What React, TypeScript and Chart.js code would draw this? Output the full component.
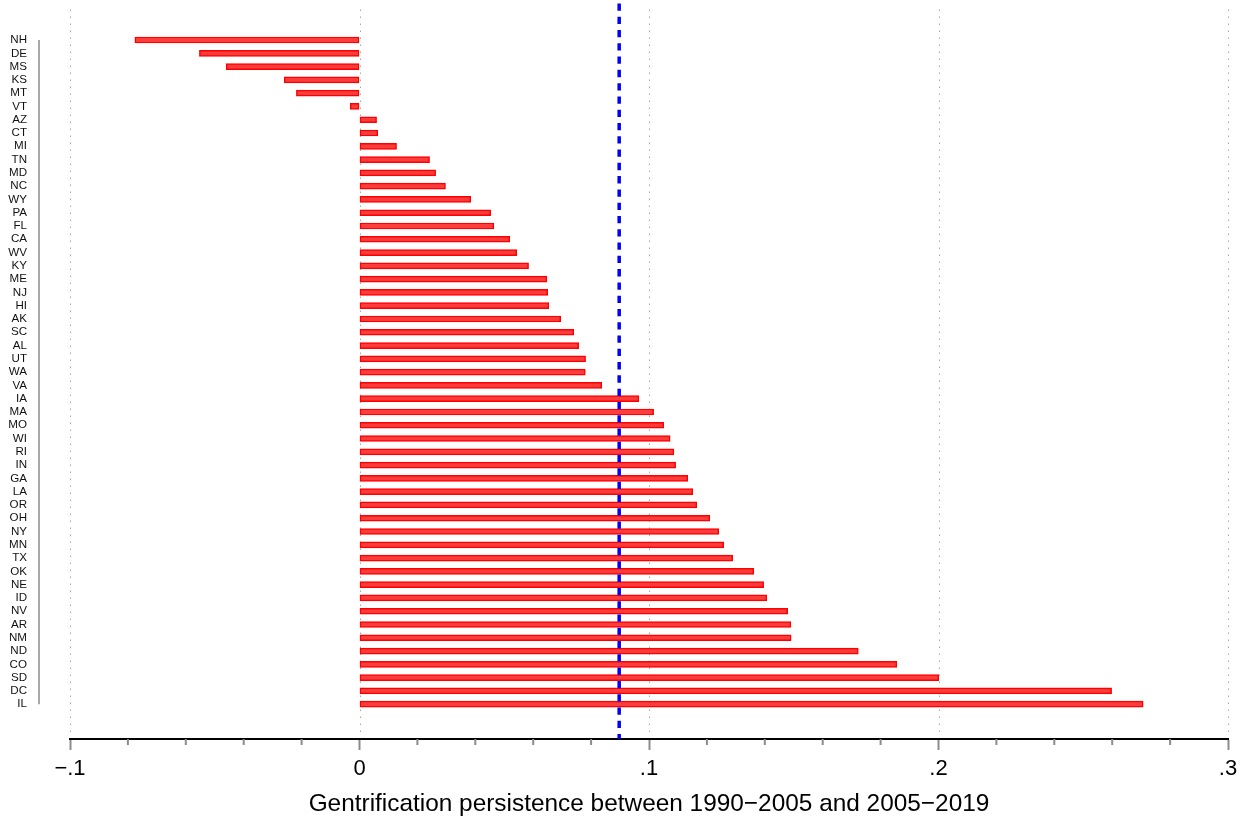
import React, { useEffect, useRef } from "react";
import { Chart, registerables } from "chart.js";

Chart.register(...registerables);

const states = [
  "NH", "DE", "MS", "KS", "MT", "VT", "AZ", "CT", "MI", "TN", "MD", "NC", "WY",
  "PA", "FL", "CA", "WV", "KY", "ME", "NJ", "HI", "AK", "SC", "AL", "UT", "WA",
  "VA", "IA", "MA", "MO", "WI", "RI", "IN", "GA", "LA", "OR", "OH", "NY", "MN",
  "TX", "OK", "NE", "ID", "NV", "AR", "NM", "ND", "CO", "SD", "DC", "IL",
];

const persistence = [
  -0.0776, -0.0553, -0.046, -0.026, -0.0218, -0.0032, 0.0059, 0.0063, 0.0128,
  0.0242, 0.0263, 0.0297, 0.0384, 0.0453, 0.0464, 0.0519, 0.0543, 0.0584,
  0.0647, 0.065, 0.0654, 0.0695, 0.074, 0.0757, 0.0781, 0.078, 0.0837,
  0.0965, 0.1016, 0.1051, 0.1073, 0.1086, 0.1092, 0.1134, 0.1151, 0.1165,
  0.121, 0.1241, 0.1258, 0.1289, 0.1362, 0.1396, 0.1407, 0.1479, 0.149,
  0.1491, 0.1723, 0.1856, 0.2001, 0.2598, 0.2707,
];

const meanPersistence = 0.0897;

const xMajorTicks = [-0.1, 0, 0.1, 0.2, 0.3];
const xTickLabels = ["\u2212.1", "0", ".1", ".2", ".3"];
const xMinorStep = 0.02;
const xTitle = "Gentrification persistence between 1990\u22122005 and 2005\u22122019";

const FONT = '"Liberation Sans", Arimo, Arial, Helvetica, sans-serif';

export default function App() {
  const ref = useRef<HTMLCanvasElement>(null);

  useEffect(() => {
    const canvas = ref.current;
    if (!canvas) return;

    const decor = {
      id: "decor",
      beforeDatasetsDraw(chart: any) {
        const { ctx, chartArea, scales } = chart;
        const x = scales.x;
        ctx.save();
        ctx.strokeStyle = "#a8a8a8";
        ctx.lineWidth = 1;
        ctx.setLineDash([1.5, 5.5]);
        for (const v of xMajorTicks) {
          const px = Math.round(x.getPixelForValue(v)) + 0.5;
          ctx.beginPath();
          ctx.moveTo(px, chartArea.top + 6);
          ctx.lineTo(px, chartArea.bottom - 3);
          ctx.stroke();
        }
        ctx.restore();
      },
      afterDatasetsDraw(chart: any) {
        const { ctx, chartArea, scales } = chart;
        const x = scales.x;
        const y = scales.y;
        ctx.save();
        // mean line (blue, dashed)
        const period = Math.abs(y.getPixelForValue(1) - y.getPixelForValue(0));
        const dash = period * 0.55;
        const c0 = y.getPixelForValue(0.52);
        const s0 = c0 - dash / 2;
        const y0 = chartArea.top;
        const off = (((y0 - s0) % period) + period) % period;
        const mx = x.getPixelForValue(meanPersistence);
        ctx.strokeStyle = "#0000ff";
        ctx.lineWidth = 3.5;
        ctx.setLineDash([dash, period - dash]);
        ctx.lineDashOffset = off;
        ctx.beginPath();
        ctx.moveTo(mx, y0);
        ctx.lineTo(mx, chartArea.bottom);
        ctx.stroke();
        ctx.restore();

        // y-axis gray line spanning the categories
        ctx.save();
        ctx.strokeStyle = "#a8a8a8";
        ctx.lineWidth = 2;
        const ax = chartArea.left - 31;
        ctx.beginPath();
        ctx.moveTo(ax, y.getPixelForValue(0));
        ctx.lineTo(ax, y.getPixelForValue(states.length - 1));
        ctx.stroke();
        ctx.restore();

        // minor ticks on x axis
        ctx.save();
        ctx.strokeStyle = "#8c8c8c";
        ctx.lineWidth = 2;
        const n = Math.round((x.max - x.min) / xMinorStep);
        for (let i = 0; i <= n; i++) {
          const v = x.min + i * xMinorStep;
          if (xMajorTicks.some((m) => Math.abs(m - v) < 1e-9)) continue;
          const px = x.getPixelForValue(v);
          ctx.beginPath();
          ctx.moveTo(px, chartArea.bottom);
          ctx.lineTo(px, chartArea.bottom + 6);
          ctx.stroke();
        }
        ctx.restore();
      },
    };

    const chart = new Chart(canvas, {
      type: "bar",
      data: {
        datasets: [
          {
            data: persistence.map((v, i) => ({ x: v, y: i })),
            backgroundColor: "#ff3c3c",
            borderColor: "#ff0000",
            borderWidth: 1.5,
            borderSkipped: false,
            barThickness: 6,
          },
        ],
      },
      options: {
        indexAxis: "y",
        animation: false,
        responsive: true,
        maintainAspectRatio: false,
        layout: { padding: { top: 3.5, right: 17, left: 0, bottom: 0 } },
        plugins: {
          legend: { display: false },
          tooltip: { enabled: false },
        },
        scales: {
          x: {
            type: "linear",
            min: -0.1,
            max: 0.3,
            offset: false,
            afterBuildTicks: (s: any) => {
              s.ticks = xMajorTicks.map((v) => ({ value: v }));
            },
            ticks: {
              autoSkip: false,
              maxRotation: 0,
              callback: (_v: any, i: number) => xTickLabels[i],
              font: { family: FONT, size: 22 },
              color: "#000",
              padding: 6,
            },
            grid: {
              drawOnChartArea: false,
              drawTicks: true,
              tickLength: 11,
              tickColor: "#8c8c8c",
              tickWidth: 2,
            },
            border: { display: true, color: "#000", width: 2 },
            title: {
              display: true,
              text: xTitle,
              font: { family: FONT, size: 24.4 },
              color: "#000",
              padding: { top: 0, bottom: 4 },
            },
            afterFit: (s: any) => {
              s.height = 84;
            },
          },
          y: {
            type: "linear",
            reverse: true,
            offset: false,
            min: -2.75,
            max: 52.62,
            afterBuildTicks: (s: any) => {
              s.ticks = states.map((_, i) => ({ value: i }));
            },
            ticks: {
              autoSkip: false,
              callback: (v: any) => states[Math.round(Number(v))] ?? "",
              font: { family: FONT, size: 11.6 },
              color: "#111",
              padding: 43,
            },
            grid: { display: false, drawTicks: false, offset: false },
            border: { display: false },
            afterFit: (s: any) => {
              s.width = 70;
              s.paddingTop = 0;
              s.paddingBottom = 0;
            },
          },
        },
      },
      plugins: [decor],
    });

    return () => chart.destroy();
  }, []);

  return (
    <div style={{ position: "fixed", left: 0, top: 0, width: 1245, height: 823, background: "#fff" }}>
      <canvas ref={ref} />
    </div>
  );
}
